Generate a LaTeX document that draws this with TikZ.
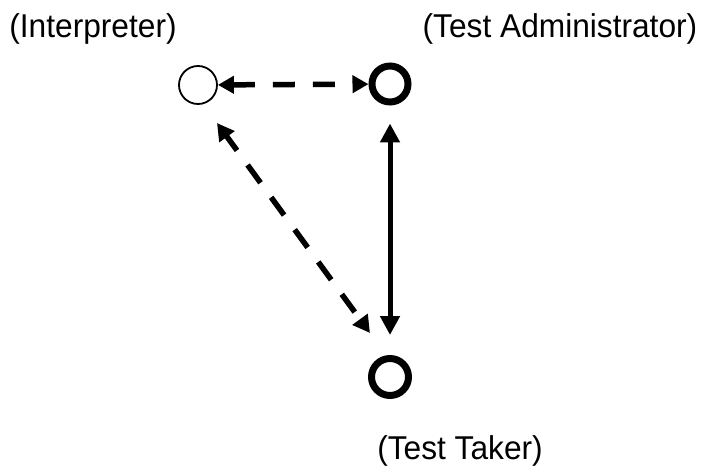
\documentclass[tikz,border=0pt]{standalone}
\usepackage{fontspec}
\setmainfont{Liberation Sans}
\usetikzlibrary{arrows.meta}
\begin{document}
\begin{tikzpicture}[x=1pt,y=-1pt,
  lbl/.style={anchor=base,inner sep=0pt,font=\fontsize{33}{40}\selectfont},
  thinring/.style={circle,draw,line width=1.8pt,minimum size=38pt,inner sep=0pt},
  thickring/.style={circle,draw,line width=7pt,minimum size=36pt,inner sep=0pt},
  dashline/.style={line width=5.5pt,dash pattern=on 22pt off 18pt},
  solidline/.style={line width=5pt}]
\useasboundingbox (0,0) rectangle (702,468);
\fill[white] (0,0) rectangle (702,468);
\node[thinring] (I) at (198,85) {};
\node[thickring] (A) at (390,84) {};
\node[thickring,minimum size=37pt] (T) at (390,377) {};
\node[lbl] (li) at (93,38) {\scalebox{0.96}[1]{(Interpreter)}};
\node[lbl] (la) at (560,38) {\scalebox{0.96}[1]{(Test Administrator)}};
\node[lbl] (lt) at (460,459) {\scalebox{0.96}[1]{(Test Taker)}};
\coordinate (d1) at (217,123);
\coordinate (d2) at (370,333);
\draw[dashline,{Triangle[length=16pt,width=17pt]}-{Triangle[length=16pt,width=17pt]}] (I) -- (A);
\draw[solidline,{Triangle[length=19pt,width=19pt]}-{Triangle[length=19pt,width=19pt]},shorten <=18pt,shorten >=20pt] (A) -- (T);
\draw[dashline,dash phase=4pt,{Triangle[length=17pt,width=18pt]}-{Triangle[length=17pt,width=18pt]}] (d1) -- (d2);
\end{tikzpicture}
\end{document}
